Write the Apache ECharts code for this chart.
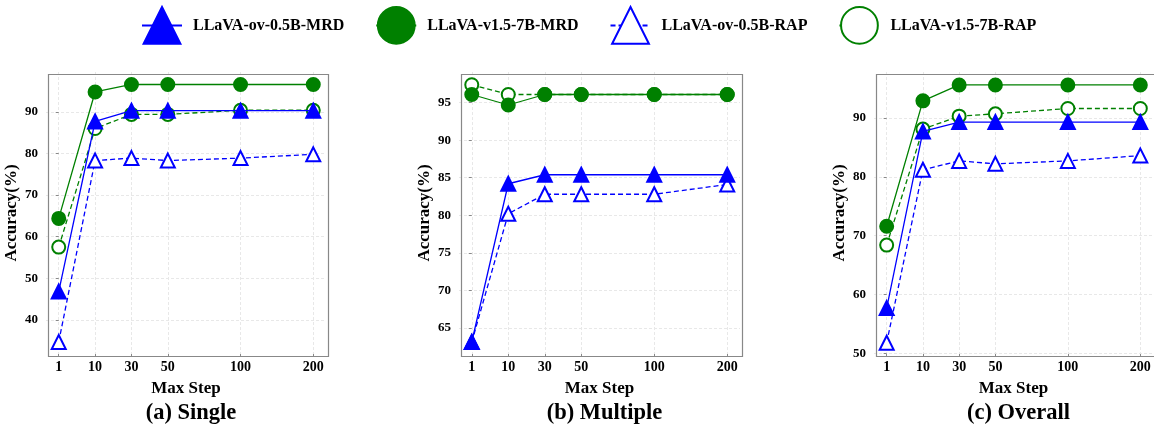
<!DOCTYPE html>
<html>
<head>
<meta charset="utf-8">
<script src="https://cdn.jsdelivr.net/npm/echarts@6/dist/echarts.min.js"></script>
<style>
  html, body { margin: 0; padding: 0; background: #fff; }
  #main { width: 1154px; height: 425px; }
</style>
</head>
<body>
<div id="main"></div>
<script>
// max step labels and where they sit on the (uneven) x axis
var stepLabels = ['1', '10', '30', '50', '100', '200'];
var stepPos = [0, 1, 2, 3, 5, 7];

var names = ['LLaVA-ov-0.5B-MRD', 'LLaVA-v1.5-7B-MRD', 'LLaVA-ov-0.5B-RAP', 'LLaVA-v1.5-7B-RAP'];

// (a) Single
var singleOvMRD = [46.8, 87.7, 90.3, 90.3, 90.3, 90.3];
var singleV15MRD = [64.4, 94.8, 96.6, 96.6, 96.6, 96.6];
var singleOvRAP = [34.7, 78.3, 78.9, 78.3, 78.9, 79.8];
var singleV15RAP = [57.5, 86.0, 89.4, 89.4, 90.4, 90.4];

// (b) Multiple
var multiOvMRD = [63.1, 84.2, 85.4, 85.4, 85.4, 85.4];
var multiV15MRD = [96.1, 94.7, 96.1, 96.1, 96.1, 96.1];
var multiOvRAP = [63.1, 80.2, 82.8, 82.8, 82.8, 84.1];
var multiV15RAP = [97.4, 96.1, 96.1, 96.1, 96.1, 96.1];

// (c) Overall
var overallOvMRD = [57.7, 87.7, 89.3, 89.3, 89.3, 89.3];
var overallV15MRD = [71.6, 92.9, 95.6, 95.6, 95.6, 95.6];
var overallOvRAP = [51.8, 81.2, 82.7, 82.2, 82.7, 83.6];
var overallV15RAP = [68.4, 88.1, 90.3, 90.7, 91.6, 91.6];

// y ticks per panel
var yTicks1 = [40, 50, 60, 70, 80, 90];
var yTicks2 = [65, 70, 75, 80, 85, 90, 95];
var yTicks3 = [50, 60, 70, 80, 90];

var panelTitles = ['(a) Single', '(b) Multiple', '(c) Overall'];

var blue = '#0000ff';
var green = '#008000';
var font = '"Liberation Serif", "Times New Roman", serif';

var chart = echarts.init(document.getElementById('main'));

function toPairs(vals) {
  return vals.map(function (v, i) { return [stepPos[i], v]; });
}

var grids = [
  { left: 46, top: 72, width: 280, height: 282 },
  { left: 459, top: 72, width: 281, height: 282 },
  { left: 874, top: 72, width: 279, height: 282 }
];

function makeX(idx) {
  return {
    type: 'value', gridIndex: idx, min: -0.35, max: 7.35,
    name: 'Max Step', nameLocation: 'middle', nameGap: 26,
    nameTextStyle: { fontFamily: font, fontWeight: 'bold', fontSize: 17, color: '#000' },
    axisLine: { show: false },
    axisTick: { show: true, customValues: stepPos, length: 3, lineStyle: { color: '#888' } },
    axisLabel: {
      customValues: stepPos, margin: 6,
      fontFamily: font, fontWeight: 'bold', fontSize: 14, color: '#000',
      formatter: function (v) { return stepLabels[stepPos.indexOf(v)]; }
    },
    splitLine: { show: true, lineStyle: { color: '#e8e8e8', type: [3, 2] } }
  };
}

function makeY(idx, ticks, min, max) {
  return {
    type: 'value', gridIndex: idx, min: min, max: max,
    name: 'Accuracy(%)', nameLocation: 'middle', nameGap: 26,
    nameTextStyle: { fontFamily: font, fontWeight: 'bold', fontSize: 17, color: '#000' },
    axisLine: { show: false },
    axisTick: { show: true, customValues: ticks, length: 3, lineStyle: { color: '#888' } },
    axisLabel: {
      customValues: ticks, margin: 8,
      fontFamily: font, fontWeight: 'bold', fontSize: 13, color: '#000'
    },
    splitLine: { show: true, lineStyle: { color: '#e8e8e8', type: [3, 2] } }
  };
}

var panels = [
  [singleOvMRD, singleV15MRD, singleOvRAP, singleV15RAP],
  [multiOvMRD, multiV15MRD, multiOvRAP, multiV15RAP],
  [overallOvMRD, overallV15MRD, overallOvRAP, overallV15RAP]
];

var styles = [
  { color: blue, symbol: 'triangle', size: 14, dash: 'solid' },
  { color: green, symbol: 'circle', size: 13, dash: 'solid' },
  { color: blue, symbol: 'emptyTriangle', size: 14, dash: [5, 3] },
  { color: green, symbol: 'emptyCircle', size: 13, dash: [5, 3] }
];

var series = [];
panels.forEach(function (p, gi) {
  // draw RAP first so MRD sits on top like the reference
  [2, 3, 0, 1].forEach(function (k) {
    var s = styles[k];
    series.push({
      name: names[k], type: 'line', xAxisIndex: gi, yAxisIndex: gi,
      data: toPairs(p[k]),
      symbol: s.symbol, symbolSize: s.size, showAllSymbol: true,
      lineStyle: { color: s.color, width: 1.3, type: s.dash },
      itemStyle: { color: s.color, borderColor: s.color, borderWidth: 2 },
      emphasis: { disabled: true },
      animation: false, z: k < 2 ? 3 : 2
    });
  });
});

// box border round each plot
var graphics = grids.map(function (g) {
  return {
    type: 'rect', left: g.left, top: g.top,
    shape: { width: g.width, height: g.height },
    style: { fill: 'none', stroke: '#888', lineWidth: 1.2 }, silent: true, z: 100
  };
});

var titles = panelTitles.map(function (t, i) {
  return {
    text: t, left: grids[i].left + grids[i].width / 2, top: 397, textAlign: 'center',
    textStyle: { fontFamily: font, fontWeight: 'bold', fontSize: 22.5, color: '#000' }
  };
});

chart.setOption({
  animation: false,
  title: titles,
  legend: {
    data: names, top: 1, left: 136, itemWidth: 40, itemHeight: 46, itemGap: 31,
    textStyle: { fontFamily: font, fontWeight: 'bold', fontSize: 16, color: '#000', padding: [0, 0, 0, 6] }
  },
  grid: grids,
  xAxis: [makeX(0), makeX(1), makeX(2)],
  yAxis: [makeY(0, yTicks1, 31.8, 99.6), makeY(1, yTicks2, 61.5, 99.1), makeY(2, yTicks3, 49.9, 97.8)],
  graphic: graphics,
  series: series
});
</script>
</body>
</html>
